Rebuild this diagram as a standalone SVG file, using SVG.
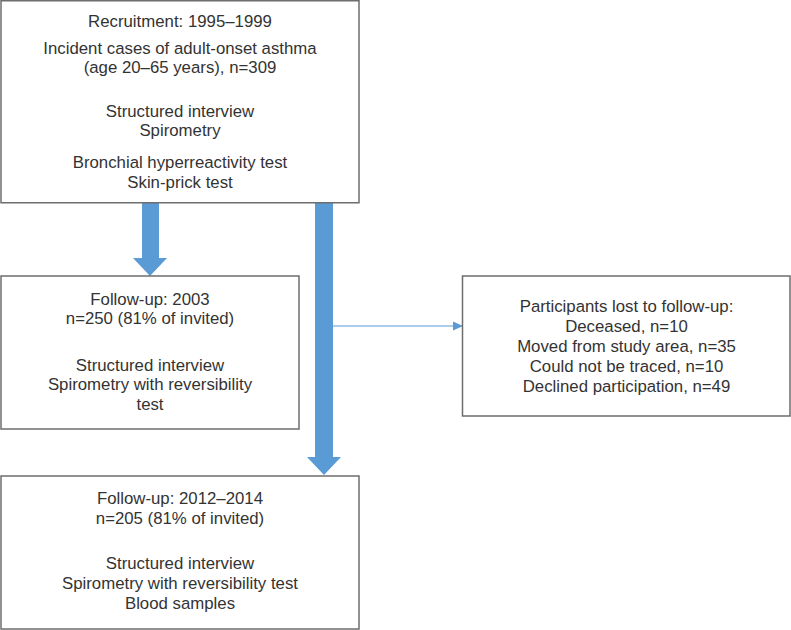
<svg xmlns="http://www.w3.org/2000/svg" width="791" height="630" viewBox="0 0 791 630">
<style>
.box{fill:#fff;stroke:#6d6d6d;stroke-width:1.5}
text{font-family:"Liberation Sans",Arial,sans-serif;font-size:16.8px;fill:#333;text-anchor:middle}
.fat{fill:#5b9bd5}
</style>
<defs>
<marker id="ah" markerWidth="10" markerHeight="10" refX="9" refY="5" orient="auto" markerUnits="userSpaceOnUse">
<path d="M0,0.5 L10,5 L0,9.5 Z" fill="#5b9bd5"/>
</marker>
</defs>
<rect width="791" height="630" fill="#fff"/>
<g id="connectors">
<path class="fat" d="M142,203 H159 V258 H167 L150,276 L133,258 H142 Z"/>
<path class="fat" d="M315,203 H333 V457 H341 L324,475 L307,457 H315 Z"/>
<line x1="333" y1="326" x2="462" y2="326" stroke="#5b9bd5" stroke-width="1.2" marker-end="url(#ah)"/>
</g>
<g id="recruitment">
<rect class="box" x="1" y="0.75" width="358" height="202"/>
<text x="180" y="26.5">Recruitment: 1995–1999</text>
<text x="180" y="54">Incident cases of adult-onset asthma</text>
<text x="180" y="73">(age 20–65 years), n=309</text>
<text x="180" y="116.5">Structured interview</text>
<text x="180" y="136">Spirometry</text>
<text x="180" y="168">Bronchial hyperreactivity test</text>
<text x="180" y="188">Skin-prick test</text>
</g>
<g id="followup2003">
<rect class="box" x="1" y="276" width="298" height="153"/>
<text x="150" y="305">Follow-up: 2003</text>
<text x="150" y="324">n=250 (81% of invited)</text>
<text x="150" y="370.5">Structured interview</text>
<text x="150" y="390">Spirometry with reversibility</text>
<text x="150" y="410">test</text>
</g>
<g id="lost">
<rect class="box" x="462.5" y="276" width="327.5" height="140"/>
<text x="626.5" y="311.5">Participants lost to follow-up:</text>
<text x="626.5" y="331.5">Deceased, n=10</text>
<text x="626.5" y="351.5">Moved from study area, n=35</text>
<text x="626.5" y="371.5">Could not be traced, n=10</text>
<text x="626.5" y="391.5">Declined participation, n=49</text>
</g>
<g id="followup2012">
<rect class="box" x="1" y="476" width="358" height="153"/>
<text x="180" y="504">Follow-up: 2012–2014</text>
<text x="180" y="523.5">n=205 (81% of invited)</text>
<text x="180" y="569">Structured interview</text>
<text x="180" y="589">Spirometry with reversibility test</text>
<text x="180" y="609">Blood samples</text>
</g>
</svg>
